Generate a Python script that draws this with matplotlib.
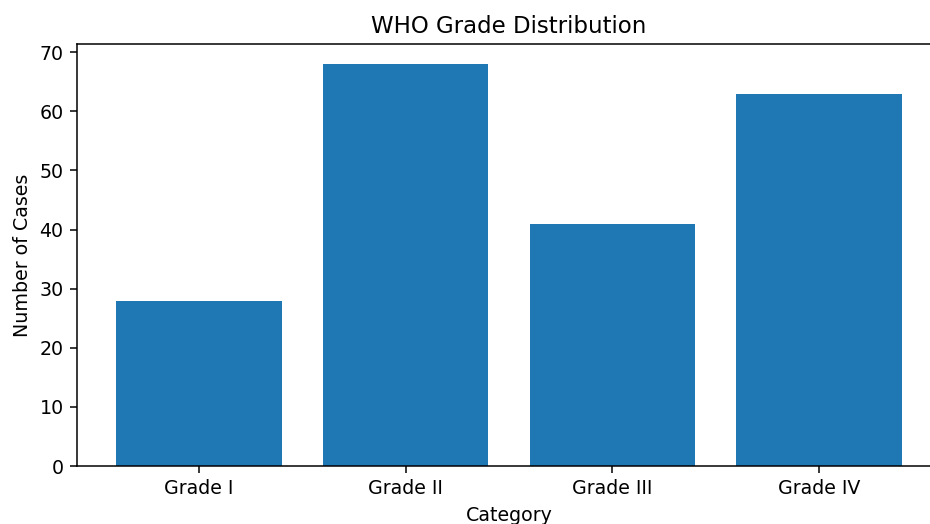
import matplotlib
matplotlib.use("Agg")
import matplotlib.pyplot as plt

categories = ["Grade I", "Grade II", "Grade III", "Grade IV"]
cases = [28, 68, 41, 63]

DPI = 137
W, H = 930, 524

fig = plt.figure(figsize=(W / DPI, H / DPI), dpi=DPI)
# axes run past the right edge, as in the cropped reference
ax = fig.add_axes([77 / W, (H - 466) / H, 864 / W, 422 / H])

ax.bar(categories, cases, color="#1f77b4", width=0.8)
ax.set_title("WHO Grade Distribution")
ax.set_xlabel("Category")
ax.set_ylabel("Number of Cases")

fig.savefig("out.png", dpi=DPI)
